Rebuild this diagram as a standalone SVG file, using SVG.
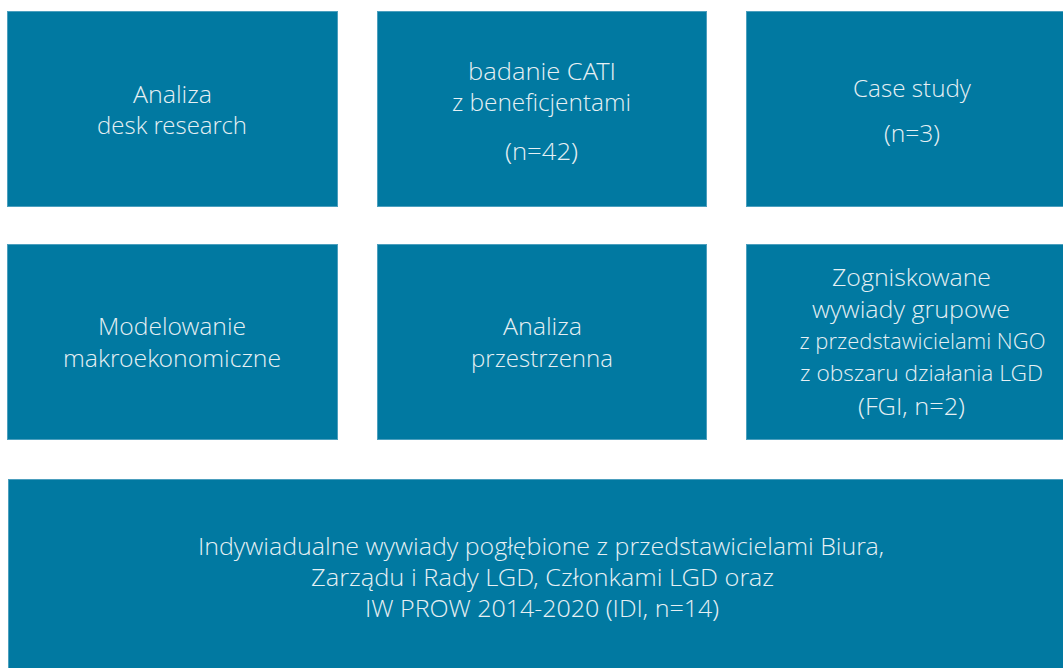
<svg xmlns="http://www.w3.org/2000/svg" width="1063" height="668" viewBox="0 0 1063 668">
<style>
.box{fill:#0179A1;stroke:#4C9FBE;stroke-width:1}
.t{font-family:"Open Sans Light","Open Sans","Liberation Sans",sans-serif;font-weight:300;font-size:24px;fill:#E6F0F4;text-anchor:middle;dominant-baseline:central}
.s{font-size:22.5px}
</style>
<rect width="1063" height="668" fill="#ffffff"/>
<g id="n1"><rect class="box" x="7.5" y="11.5" width="330" height="195"/>
<text class="t" x="172.5" y="93.5" textLength="79" lengthAdjust="spacingAndGlyphs">Analiza</text><text class="t" x="172" y="124.5" textLength="150" lengthAdjust="spacingAndGlyphs">desk research</text></g>
<g id="n2"><rect class="box" x="377.5" y="11.5" width="329" height="195"/>
<text class="t" x="542" y="70.5" textLength="148" lengthAdjust="spacingAndGlyphs">badanie CATI</text><text class="t" x="541.5" y="101.5" textLength="179" lengthAdjust="spacingAndGlyphs">z beneficjentami</text><text class="t" x="541.5" y="150.5" textLength="73" lengthAdjust="spacingAndGlyphs">(n=42)</text></g>
<g id="n3"><rect class="box" x="746.5" y="11.5" width="317" height="195"/>
<text class="t" x="912" y="87.5" textLength="118" lengthAdjust="spacingAndGlyphs">Case study</text><text class="t" x="912" y="132.5" textLength="56" lengthAdjust="spacingAndGlyphs">(n=3)</text></g>
<g id="n4"><rect class="box" x="7.5" y="244.5" width="330" height="195"/>
<text class="t" x="172" y="325.5" textLength="148" lengthAdjust="spacingAndGlyphs">Modelowanie</text><text class="t" x="172" y="357.5" textLength="218" lengthAdjust="spacingAndGlyphs">makroekonomiczne</text></g>
<g id="n5"><rect class="box" x="377.5" y="244.5" width="329" height="195"/>
<text class="t" x="542.5" y="325.5" textLength="79" lengthAdjust="spacingAndGlyphs">Analiza</text><text class="t" x="542" y="357.5" textLength="142" lengthAdjust="spacingAndGlyphs">przestrzenna</text></g>
<g id="n6"><rect class="box" x="746.5" y="244.5" width="317" height="195"/>
<text class="t" x="911.5" y="276.5" textLength="159" lengthAdjust="spacingAndGlyphs">Zogniskowane</text><text class="t" x="911" y="308.5" textLength="198" lengthAdjust="spacingAndGlyphs">wywiady grupowe</text><text class="t s" x="922.5" y="340.5" textLength="246" lengthAdjust="spacingAndGlyphs">z przedstawicielami NGO</text><text class="t s" x="921.5" y="372.5" textLength="243" lengthAdjust="spacingAndGlyphs">z obszaru działania LGD</text><text class="t" x="911.5" y="405.5" textLength="107" lengthAdjust="spacingAndGlyphs">(FGI, n=2)</text></g>
<g id="n7"><rect class="box" x="8.5" y="479.5" width="1055" height="189"/>
<text class="t" x="541" y="545.5" textLength="686" lengthAdjust="spacingAndGlyphs">Indywiadualne wywiady pogłębione z przedstawicielami Biura,</text><text class="t" x="542.5" y="576.5" textLength="463" lengthAdjust="spacingAndGlyphs">Zarządu i Rady LGD, Członkami LGD oraz</text><text class="t" x="542" y="607.5" textLength="354" lengthAdjust="spacingAndGlyphs">IW PROW 2014-2020 (IDI, n=14)</text></g>
<g id="connectors"></g>
</svg>
